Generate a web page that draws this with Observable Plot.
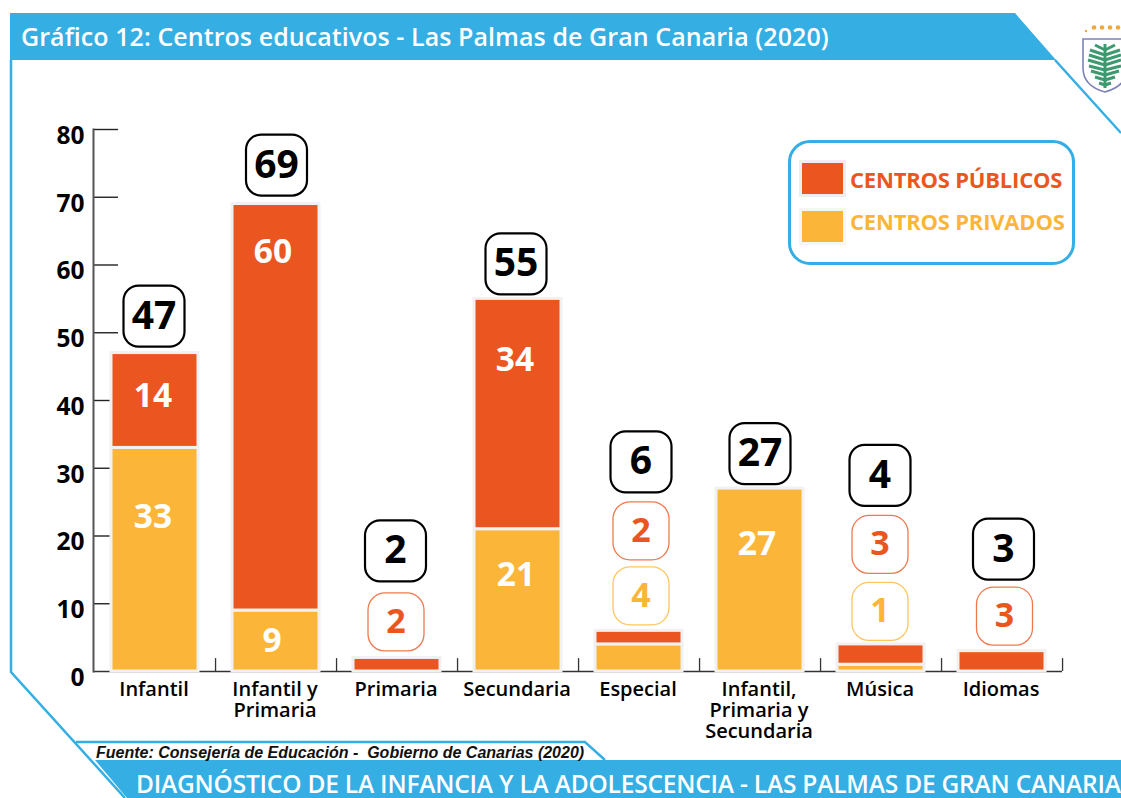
<!DOCTYPE html>
<html lang="es">
<head>
<meta charset="utf-8">
<script src="https://cdn.jsdelivr.net/npm/d3@7"></script>
<script src="https://cdn.jsdelivr.net/npm/@observablehq/plot@0.6"></script>
<style>
  html, body { margin: 0; padding: 0; background: #fff; width: 1121px; height: 798px; overflow: hidden; }
  #stage { position: relative; width: 1121px; height: 798px; overflow: hidden; font-family: "Open Sans", sans-serif; }
  #deco, #chart { position: absolute; left: 0; top: 0; }
  .t { position: absolute; white-space: nowrap; line-height: 1; }
  #title { left: 21px; top: 24px; color: #fff; font-size: 25px; font-weight: 600; letter-spacing: 0.07px; }
  #footer { left: 136px; top: 772px; color: #fff; font-size: 24.5px; font-weight: 600; letter-spacing: -0.2px; }
  #source { left: 96px; top: 744px; font: italic 700 16px "Liberation Sans", sans-serif; color: #111; }
  #legend { position: absolute; left: 788px; top: 140px; width: 281px; height: 119px; border: 3px solid #34aee3; border-radius: 22px; }
  .sw { position: absolute; left: 802px; width: 41px; height: 31px; outline: 3px solid #eee; }
  .lt { left: 850px; font-size: 22px; font-weight: 700; letter-spacing: -0.2px; }
</style>
</head>
<body>
<div id="stage">
  <svg id="deco" width="1121" height="798" viewBox="0 0 1121 798">
    <path d="M11 60V672L125 798" fill="none" stroke="#34aee3" stroke-width="2.5"/>
    <path d="M76 742H585L605 760" fill="none" stroke="#34aee3" stroke-width="2.5"/>
    <path d="M10 13H1015L1056 60H10Z" fill="#34aee3"/>
    <path d="M95 760H1121V798H127Z" fill="#34aee3"/>
    <g id="crest">
      <path d="M1083 39H1127V68Q1127 86 1105 92Q1083 86 1083 68Z" fill="#fff" stroke="#7d82b8" stroke-width="1.6"/>
      <g stroke="#3d9a70" stroke-width="3" fill="none">
        <path d="M1105 44V88"/>
        <path d="M1105 50L1095 45M1105 55L1090 50M1105 60L1089 55M1105 65L1088 60M1105 70L1089 66M1105 75L1091 71M1105 80L1095 77M1105 85L1099 83"/>
        <path d="M1105 50L1115 45M1105 55L1120 50M1105 60L1121 55M1105 65L1121 60M1105 70L1121 66M1105 75L1119 71M1105 80L1115 77M1105 85L1111 83"/>
      </g>
      <g fill="#f0a83c">
        <circle cx="1086" cy="31" r="1.2"/><circle cx="1094" cy="27.5" r="2.3"/><circle cx="1102" cy="27.5" r="2.3"/><circle cx="1110" cy="27.5" r="2.3"/><circle cx="1118" cy="27.5" r="2.3"/>
      </g>
    </g>
    <path d="M1055 60L1121 133" fill="none" stroke="#34aee3" stroke-width="2.5"/>
  </svg>
  <div id="chart"></div>
  <div class="t" id="title">Gráfico 12: Centros educativos - Las Palmas de Gran Canaria (2020)</div>
  <div id="legend"></div>
  <div class="sw" style="top:163px;background:#eb5620"></div>
  <div class="sw" style="top:211px;background:#fbb63a;outline-color:#f6f6f6"></div>
  <div class="t lt" style="top:168px;color:#eb5620">CENTROS PÚBLICOS</div>
  <div class="t lt" style="top:210px;color:#fbb63a">CENTROS PRIVADOS</div>
  <div class="t" id="source">Fuente: Consejería de Educación -&nbsp; Gobierno de Canarias (2020)</div>
  <div class="t" id="footer">DIAGNÓSTICO DE LA INFANCIA Y LA ADOLESCENCIA - LAS PALMAS DE GRAN CANARIA</div>
</div>
<script>
const categories = ["Infantil", "Infantil y\nPrimaria", "Primaria", "Secundaria", "Especial", "Infantil,\nPrimaria y\nSecundaria", "Música", "Idiomas"];
const publicos = [14, 60, 2, 34, 2, 0, 3, 3];
const privados = [33, 9, 0, 21, 4, 27, 1, 0];
const totales = [47, 69, 2, 55, 6, 27, 4, 3];
const yTicks = [10, 20, 30, 40, 50, 60, 70, 80];

const ORANGE = "#eb5620", YELLOW = "#fbb63a";
const rows = [
  ...privados.map((v, i) => ({cat: categories[i], serie: "Privados", v})),
  ...publicos.map((v, i) => ({cat: categories[i], serie: "Públicos", v}))
].filter(d => d.v > 0);

function roundBox(hw, hh, rad) {
  return {draw(ctx) {
    ctx.moveTo(-hw + rad, -hh);
    ctx.arcTo(hw, -hh, hw, hh, rad);
    ctx.arcTo(hw, hh, -hw, hh, rad);
    ctx.arcTo(-hw, hh, -hw, -hh, rad);
    ctx.arcTo(-hw, -hh, hw, -hh, rad);
    ctx.closePath();
  }};
}
const font = {fontFamily: "Open Sans", fontWeight: 700};

// number inside a bar: anchored at the segment top, shifted by dy
function inBar(i, top, value, dy, dx = 0) {
  return Plot.text([value], {x: () => categories[i], y: () => top, text: d => String(d), dy, dx,
    fill: "#fff", fontSize: 33.5, ...font});
}
// boxed number above a bar
function boxed(i, top, value, dy, dx, color, hw, hh, rad, sw, size) {
  const c = categories[i];
  return [
    Plot.dot([value], {x: () => c, y: () => top, dx, dy, r: 10, symbol: roundBox(hw, hh, rad),
      fill: "#fff", stroke: color, strokeWidth: sw, strokeOpacity: color === "#000" ? 1 : 0.8}),
    Plot.text([value], {x: () => c, y: () => top, dx, dy, text: d => String(d), fill: color, fontSize: size, ...font})
  ];
}
const big = (i, dy, dx = 0) => boxed(i, totales[i], totales[i], dy, dx, "#000", 30.5, 30.5, 15, 2.2, 39);
const pub = (i, dy, dx = 0) => boxed(i, totales[i], publicos[i], dy, dx, ORANGE, 28, 29, 17, 1.3, 34);
const pri = (i, dy, dx = 0) => boxed(i, totales[i], privados[i], dy, dx, YELLOW, 28, 29, 17, 1.3, 34);

const chart = Plot.plot({
  width: 1121, height: 798,
  marginLeft: 93, marginRight: 59, marginTop: 129, marginBottom: 127,
  style: {background: "transparent", overflow: "visible"},
  x: {domain: categories, paddingInner: 0.3, paddingOuter: 0.15, label: null},
  y: {domain: [0, 80], label: null},
  color: {domain: ["Privados", "Públicos"], range: [YELLOW, ORANGE]},
  marks: [
    Plot.ruleY([0], {stroke: "#333", strokeWidth: 1.5}),
    Plot.ruleX(categories, {x: d => d, y1: 0, y2: 1.9, dx: 60.55, stroke: "#333", strokeWidth: 1.3}),
    Plot.tickY(yTicks, {y: d => d, insetRight: 944, stroke: "#222", strokeWidth: 1.4}),
    Plot.frame({anchor: "left", stroke: "#555", strokeWidth: 2}),
    Plot.axisY({ticks: [0, ...yTicks], tickSize: 0, tickPadding: 9, dy: 6.5, fontSize: 24.5, fill: "#000", ...font}),
    Plot.axisX({tickSize: 0, tickPadding: 10, dx: -1, fontSize: 20, lineHeight: 1.05, fill: "#000", lineAnchor: "top", fontFamily: "Open Sans", fontWeight: 600, label: null}),
    Plot.barY(rows, Plot.stackY({x: "cat", y: "v", fill: "serie", stroke: "#f1f1f1", strokeWidth: 3, insetLeft: -1, insetRight: -1})),

    inBar(0, 47, publicos[0], 43, -2),
    inBar(1, 69, publicos[1], 48, -3),
    inBar(3, 55, publicos[3], 61, -3),
    inBar(0, 33, privados[0], 69, -2),
    inBar(1, 9, privados[1], 31, -4),
    inBar(3, 21, privados[3], 46, -2),
    inBar(5, 27, privados[5], 56, -3),

    big(0, -37, -1), big(1, -39, 0.5), big(2, -107, -1.5), big(3, -35, -2), big(4, -169, 2), big(5, -35), big(6, -169, -1), big(7, -102, 1.5),
    pub(2, -36, -1), pub(4, -100, 2), pub(6, -100, -1), pub(7, -35, 2.5),
    pri(4, -35, 2), pri(6, -33, -1)
  ]
});
document.getElementById("chart").appendChild(chart);
</script>
</body>
</html>
